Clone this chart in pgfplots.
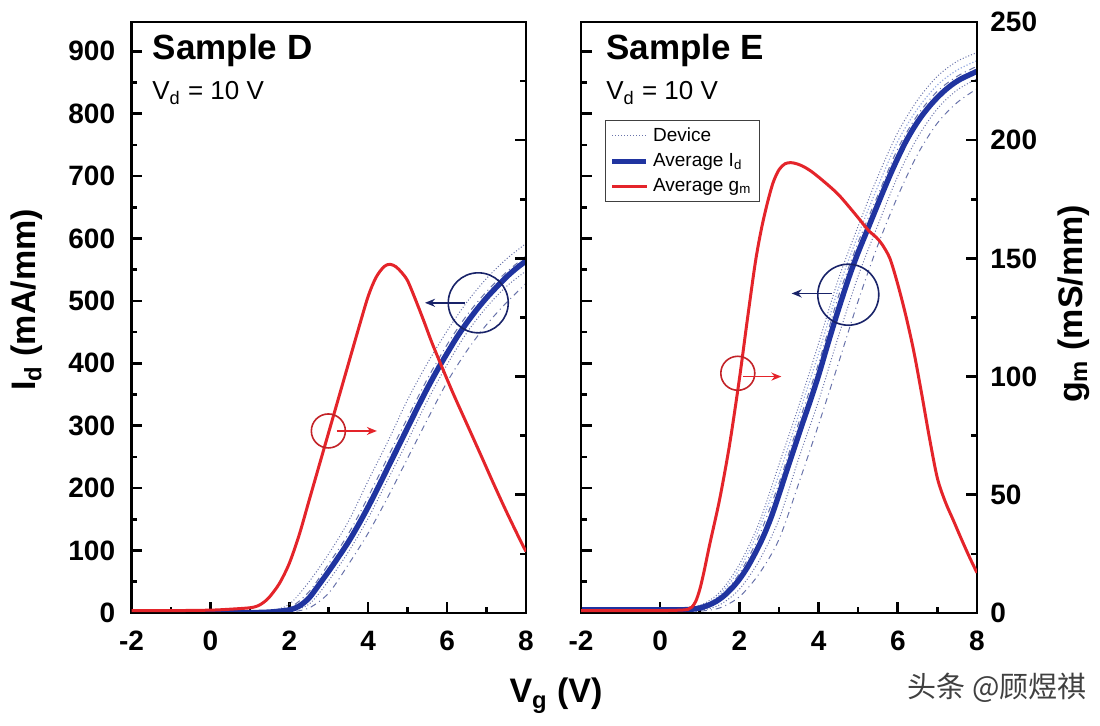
\documentclass[border=0pt]{standalone}
\usepackage{fontspec}
\setmainfont{Liberation Sans}
\newfontfamily\cjk{Noto Sans CJK SC}
\usepackage{pgfplots}
\pgfplotsset{compat=1.18}
\usetikzlibrary{arrows.meta}

\definecolor{avgblue}{RGB}{32,52,160}
\definecolor{gmred}{RGB}{228,36,42}
\definecolor{devcol}{RGB}{105,115,170}
\definecolor{devlight}{RGB}{150,170,225}
\definecolor{navy}{RGB}{25,35,105}
\definecolor{darkred}{RGB}{195,35,40}

\pgfplotsset{
  panel/.style={scale only axis, height=295.5pt, xmin=-2, xmax=8, clip=true,
    tick align=inside, axis line style={line width=1.4pt},
    every tick/.style={black, line width=1.3pt},
    major tick length=5.5pt, minor tick length=3pt,
    /pgf/number format/assume math mode=true,
    tick label style={font=\fontsize{14}{16}\selectfont\bfseries, inner sep=0pt}},
  idax/.style={ymin=0, ymax=947, ytick={0,100,...,900}, minor ytick={50,150,...,850},
    ytick pos=left, xtick={-2,0,...,8}, minor xtick={-1,1,...,7}, xtick pos=left,
    xticklabel style={yshift=-9pt}, yticklabel style={xshift=-8pt}},
  gmax/.style={ymin=0, ymax=250, ytick={0,50,...,250}, minor ytick={25,75,...,225},
    ytick pos=right, yticklabel pos=right, xtick=\empty, yticklabel style={xshift=6.5pt}},
  dev/.style={devcol, line width=0.5pt, densely dotted},
  devb/.style={devcol, line width=0.5pt, dash dot},
  devc/.style={devlight, line width=0.6pt, densely dotted},
  avgid/.style={avgblue, line width=2.7pt},
  avggm/.style={gmred, line width=1.5pt},
}

\begin{document}
\begin{tikzpicture}
\path[use as bounding box] (-65.75pt,-56.5pt) rectangle (484.25pt,306.5pt);

% ---------------- Sample D : Id ----------------
\begin{axis}[panel, idax, at={(0pt,0pt)}, anchor=south west, width=197.25pt]
\addplot[dev, smooth] coordinates {(-2,1) (0,1) (1,1.5) (1.5,3) (2,14) (2.5,50) (3,95) (3.5,147) (4,212) (4.5,275) (5,342) (5.5,400) (6,452) (6.5,498) (7,536) (7.5,567) (8,592)};
\addplot[devb, smooth] coordinates {(-2,0.5) (0,0.5) (1,1) (1.5,2) (2,8) (2.5,34) (3,79) (3.5,127) (4,186) (4.5,250) (5,313) (5.5,375) (6,430) (6.5,477) (7,515) (7.5,546) (8,572)};
\addplot[devc, smooth] coordinates {(-2,0) (1,0.5) (1.5,1.5) (2,6) (2.5,28) (3,72) (3.5,120) (4,178) (4.5,242) (5,305) (5.5,368) (6,423) (6.5,471) (7,510) (7.5,542) (8,568)};
\addplot[dev, smooth] coordinates {(-2,0) (1,0.3) (1.5,1) (2,3) (2.5,14) (3,52) (3.5,98) (4,152) (4.5,214) (5,276) (5.5,340) (6,398) (6.5,449) (7,490) (7.5,523) (8,548)};
\addplot[devb, smooth] coordinates {(-2,0) (1,0.2) (1.5,0.6) (2,1.5) (2.5,8) (3,32) (3.5,78) (4,128) (4.5,186) (5,248) (5.5,310) (6,370) (6.5,420) (7,462) (7.5,497) (8,528)};
\addplot[avgid, smooth] coordinates {(-2,0) (-1,0) (0,0) (0.5,0.3) (1,0.6) (1.5,1.5) (2,5) (2.25,11) (2.5,24) (2.75,45) (3,67) (3.25,90) (3.5,114) (3.75,141) (4,170) (4.25,201) (4.5,233) (4.75,265) (5,297) (5.25,329) (5.5,360) (5.75,389) (6,416) (6.25,442) (6.5,465) (6.75,486) (7,505) (7.25,522) (7.5,538) (7.75,552) (8,564)};
\node[draw=navy, line width=0.8pt, circle, inner sep=0pt, minimum size=30pt] at (axis cs:6.79,497) {};
\draw[navy, line width=0.9pt, -{Stealth[length=5pt,width=4pt]}] (axis cs:6.45,497) -- (axis cs:5.44,497);
\end{axis}

% ---------------- Sample D : gm ----------------
\begin{axis}[panel, gmax, at={(0pt,0pt)}, anchor=south west, width=197.25pt, yticklabel=\empty]
\addplot[avggm, smooth] coordinates {(-2,1) (-1,1) (0,1.2) (0.5,1.6) (1,2.2) (1.2,3) (1.35,4.5) (1.5,6.8) (1.75,12.5) (2,21) (2.25,33) (2.5,47.5) (2.75,62) (3,76.5) (3.25,91) (3.5,105.5) (3.75,120) (4,134) (4.2,142) (4.4,146.5) (4.55,147.5) (4.7,146.5) (4.85,144) (5,140.5) (5.2,132.5) (5.41,123.5) (5.6,115) (5.82,106) (6.15,93) (6.5,80) (6.85,67) (7.17,55) (7.5,43) (7.85,30.9) (8,26)};
\node[draw=darkred, line width=0.8pt, circle, inner sep=0pt, minimum size=17pt] at (axis cs:2.99,77) {};
\draw[gmred, line width=0.9pt, -{Stealth[length=5pt,width=4pt]}] (axis cs:3.2,77) -- (axis cs:4.22,77);
\end{axis}

% ---------------- Sample E : Id ----------------
\begin{axis}[panel, idax, at={(224.75pt,0pt)}, anchor=south west, width=198pt, yticklabel=\empty]
\addplot[dev, smooth] coordinates {(-2,7) (0,7) (0.5,8) (1,12) (1.5,33) (2,78) (2.5,145) (3,238) (3.5,332) (4,432) (4.5,535) (5,620) (5.5,700) (6,770) (6.5,822) (7,860) (7.5,884) (8,898)};
\addplot[devb, smooth] coordinates {(-2,5) (0,5) (0.5,6) (1,9) (1.5,26) (2,63) (2.5,124) (3,208) (3.5,305) (4,400) (4.5,507) (5,594) (5.5,670) (6,744) (6.5,798) (7,836) (7.5,860) (8,876)};
\addplot[devc, smooth] coordinates {(-2,6) (0,6) (0.5,6) (1,10) (1.5,29) (2,70) (2.5,135) (3,222) (3.5,318) (4,416) (4.5,520) (5,606) (5.5,684) (6,756) (6.5,808) (7,846) (7.5,870) (8,885)};
\addplot[dev, smooth] coordinates {(-2,4) (0,4) (0.5,4) (1,4) (1.5,13) (2,38) (2.5,84) (3,150) (3.5,248) (4,340) (4.5,443) (5,540) (5.5,622) (6,700) (6.5,762) (7,808) (7.5,838) (8,856)};
\addplot[devb, smooth] coordinates {(-2,3) (0,3) (0.5,3) (1,3) (1.5,8) (2,26) (2.5,63) (3,118) (3.5,208) (4,302) (4.5,400) (5,500) (5.5,590) (6,668) (6.5,735) (7,785) (7.5,818) (8,840)};
\addplot[avgid, smooth] coordinates {(-2,5) (-1,5) (0,5) (0.5,5) (0.8,6) (1,8) (1.2,12) (1.4,18) (1.6,27) (1.8,39) (2,54) (2.2,73) (2.4,96) (2.6,122) (2.8,153) (3,190) (3.2,229) (3.4,267) (3.6,305) (3.8,342) (4,381) (4.2,424) (4.4,466) (4.6,506) (4.8,544) (5,578) (5.2,609) (5.4,640) (5.6,671) (5.8,701) (6,729) (6.2,755) (6.4,777) (6.6,796) (6.8,812) (7,826) (7.2,838) (7.4,848) (7.6,856) (7.8,862) (8,868)};
\node[draw=navy, line width=0.8pt, circle, inner sep=0pt, minimum size=30.5pt] at (axis cs:4.75,510) {};
\draw[navy, line width=0.9pt, -{Stealth[length=5pt,width=4pt]}] (axis cs:4.33,512) -- (axis cs:3.32,512);
\end{axis}

% ---------------- Sample E : gm ----------------
\begin{axis}[panel, gmax, at={(224.75pt,0pt)}, anchor=south west, width=198pt,
  legend style={at={(axis description cs:0.0606,0.834)}, anchor=north west,
    draw=black!75, line width=0.5pt, fill=white, font=\fontsize{9.5}{11}\selectfont,
    inner xsep=2pt, inner ysep=1.5pt, row sep=0.5pt},
  legend cell align=left]
\addlegendimage{dev}
\addlegendentry{Device}
\addlegendimage{avgid}
\addlegendentry{Average I\textsubscript{d}}
\addplot[avggm, smooth] coordinates {(-2,1) (-1,1) (0,1) (0.5,1.2) (0.7,1.5) (0.8,2.5) (0.9,5) (1,10) (1.1,17) (1.25,29) (1.5,48) (1.75,71) (2,99) (2.2,124) (2.4,148) (2.55,162) (2.7,173) (2.85,182) (3,187.5) (3.15,190) (3.3,190.5) (3.45,190) (3.6,189) (3.8,187) (4.1,183) (4.5,177) (4.96,168) (5.25,162) (5.45,159) (5.6,156) (5.8,150) (6,139) (6.2,126) (6.4,111) (6.6,93) (6.8,74) (7,57) (7.2,47) (7.4,39.3) (7.6,31.5) (7.8,24) (8,17)};
\addlegendentry{Average g\textsubscript{m}}
\node[draw=darkred, line width=0.8pt, circle, inner sep=0pt, minimum size=17pt] at (axis cs:1.96,101.4) {};
\draw[gmred, line width=0.9pt, -{Stealth[length=5pt,width=4pt]}] (axis cs:2.09,100) -- (axis cs:3.06,100);
\end{axis}

% ---------------- texts ----------------
\node[anchor=base west, inner sep=0pt, font=\fontsize{17.5}{20}\selectfont\bfseries] at (10.5pt,276.5pt) {Sample D};
\node[anchor=base west, inner sep=0pt, font=\fontsize{13}{15}\selectfont] at (10.25pt,256.5pt) {V\textsubscript{d} = 10 V};
\node[anchor=base west, inner sep=0pt, font=\fontsize{17.5}{20}\selectfont\bfseries] at (237.25pt,276.5pt) {Sample E};
\node[anchor=base west, inner sep=0pt, font=\fontsize{13}{15}\selectfont] at (237.25pt,256.5pt) {V\textsubscript{d} = 10 V};

\node[rotate=90, anchor=base, font=\fontsize{17}{20}\selectfont\bfseries] at (-47.75pt,156.5pt) {I\textsubscript{d} (mA/mm)};
\node[rotate=90, anchor=base, font=\fontsize{17}{20}\selectfont\bfseries] at (475.25pt,154.5pt) {g\textsubscript{m} (mS/mm)};
\node[anchor=base, font=\fontsize{17}{20}\selectfont\bfseries] at (212.25pt,-45pt) {V\textsubscript{g} (V)};

\node[anchor=center, text=black!75, font=\cjk\fontsize{14.5}{16}\selectfont] at (432.75pt,-37.5pt) {头条 @顾煜祺};
\end{tikzpicture}
\end{document}
